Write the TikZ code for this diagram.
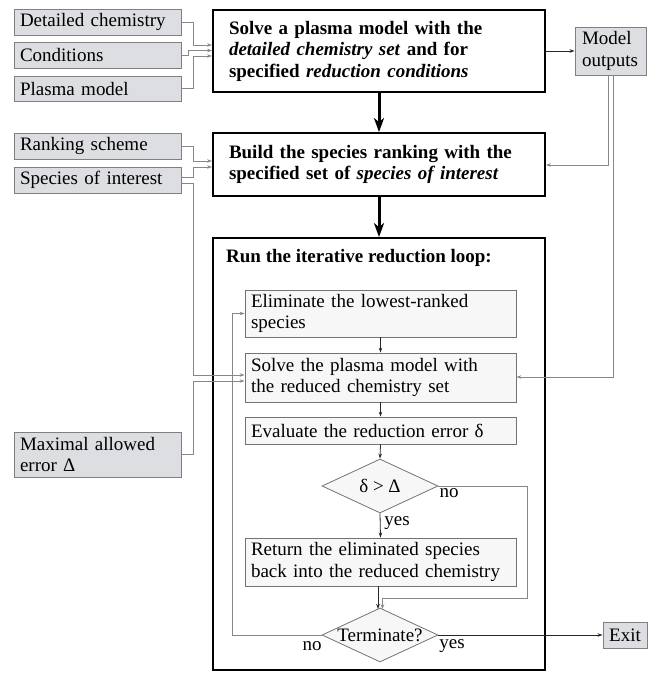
\documentclass[tikz,border=0pt]{standalone}
\usepackage{fontspec}
\setmainfont{Liberation Serif}
\usetikzlibrary{shapes.geometric,arrows.meta,calc}
\definecolor{gfill}{RGB}{221,222,225}
\definecolor{gedge}{RGB}{128,128,128}
\definecolor{ifill}{RGB}{247,247,247}
\definecolor{iedge}{RGB}{115,115,115}
\definecolor{lgray}{RGB}{135,135,135}
\newcommand\fsz{\fontsize{19}{21.5}\selectfont}
\begin{document}
\begin{tikzpicture}[x=1pt,y=-1pt,
  inbox/.style={draw=gedge, fill=gfill, line width=0.9pt, inner xsep=6pt, inner ysep=0pt,
    align=left, text width=155pt, font=\fsz},
  mainbox/.style={draw=black, line width=1.8pt, fill=white, font=\fsz\bfseries, align=left,
    text width=300pt, inner xsep=16pt, inner ysep=0pt},
  stepbox/.style={draw=iedge, fill=ifill, line width=0.8pt, text width=259pt, inner xsep=6pt,
    inner ysep=0pt, align=left, font=\fsz},
  decbox/.style={diamond, draw=iedge, fill=ifill, line width=0.8pt, minimum width=116pt,
    minimum height=54pt, inner sep=0pt},
  lbl/.style={font=\fsz, inner sep=0pt},
  gline/.style={draw=lgray, line width=0.8pt, -{Stealth[length=5pt,width=3.5pt]}},
  kline/.style={draw=black!85, line width=0.8pt, -{Stealth[length=5pt,width=3.5pt]}},
  thickarrow/.style={draw=black, line width=3pt, -{Stealth[length=14pt,width=10pt,inset=4pt]}}
]
\useasboundingbox (0,0) rectangle (652,673);

% input boxes
\node[inbox, minimum height=26pt] (det) at (97.5,22) {Detailed chemistry};
\node[inbox, minimum height=26pt] (cond) at (97.5,55) {Conditions};
\node[inbox, minimum height=25pt] (pm) at (97.5,88.5) {Plasma model};
\node[inbox, minimum height=26pt] (rank) at (97.5,146) {Ranking scheme};
\node[inbox, minimum height=26pt] (spec) at (97.5,180) {Species of interest};
\node[inbox, minimum height=45pt] (maxe) at (97.5,454.5) {Maximal allowed\\error Δ};

% main boxes
\node[mainbox, minimum height=82pt] (solve) at (379,51)
  {Solve a plasma model with the\\\textit{detailed chemistry set} and for\\specified \textit{reduction conditions}};
\node[inbox, text width=57pt, inner xsep=7pt, minimum height=48pt] (mo) at (610.5,51) {Model\\outputs};
\node[mainbox, minimum height=63pt] (rankb) at (379,164.5)
  {Build the species ranking with the\\specified set of \textit{species of interest}};

% loop box
\node[draw=black, line width=1.8pt, minimum width=332pt, minimum height=432pt, inner sep=0pt] (loop) at (379,454) {};
\node[font=\fsz\bfseries, anchor=west, inner sep=0pt] (title) at (226,258) {Run the iterative reduction loop:};

\node[stepbox, minimum height=47pt] (A) at (380.5,313.5) {Eliminate the lowest-ranked\\species};
\node[stepbox, minimum height=49pt] (B) at (380.5,377.5) {Solve the plasma model with\\the reduced chemistry set};
\node[stepbox, minimum height=27pt] (C) at (380.5,430.5) {Evaluate the reduction error δ};
\node[decbox, label={[lbl]center:δ > Δ}] (D1) at (380,486) {};
\node[stepbox, minimum height=48pt] (E) at (380.5,562) {Return the eliminated species\\back into the reduced chemistry};
\node[decbox, label={[lbl]center:Terminate?}] (D2) at (380,635) {};
\node[draw=gedge, fill=gfill, line width=0.9pt, minimum width=44pt, minimum height=26pt, inner sep=0pt, font=\fsz] (exit) at (625,635) {Exit};

% labels
\node[lbl] (no1) at (449,493) {no};
\node[lbl] (yes1) at (397,523) {yes};
\node[lbl] (no2) at (312,646) {no};
\node[lbl] (yes2) at (452,646) {yes};

% connectors: inputs
\draw[gline] (det.east) -- (193,22) -- (193,45) -- (solve.west |- 0,45);
\draw[gline] (cond.east) -- (188,55) -- (188,50.5) -- (solve.west |- 0,50.5);
\draw[gline] (pm.east) -- (193,88.5) -- (193,56) -- (solve.west |- 0,56);
\draw[kline] (solve.east) -- (mo.west);
\draw[thickarrow] (solve.south) -- (rankb.north);
\draw[gline] (rank.east) -- (193,146) -- (193,161) -- (rankb.west |- 0,161);
\draw[gline] (spec.east |- 0,177) -- (193,177) -- (193,167) -- (rankb.west |- 0,167);
\draw[gline] (spec.east |- 0,183) -- (193,183) -- (193,375) -- (B.west |- 0,375);
\draw[gline] (maxe.east) -- (193,454.5) -- (193,381) -- (B.west |- 0,381);
\draw[gline] (mo.south -| 608,0) -- (608,165) -- (rankb.east |- 0,165);
\draw[gline] (mo.south -| 613,0) -- (613,377) -- (B.east |- 0,377);
\draw[thickarrow] (rankb.south) -- (loop.north);

% loop connectors
\draw[kline] (A.south) -- (B.north);
\draw[kline] (B.south) -- (C.north);
\draw[kline] (C.south) -- (D1.north);
\draw[kline] (D1.south) -- (E.north);
\draw[kline] (E.south -| 378,0) -- (378,609);
\draw[gline] (D1.east) -- (527,486) -- (527,598) -- (382.5,598) -- (382.5,609.2);
\draw[gline] (D2.west) -- (232,635) -- (232,313.5) -- (A.west);
\draw[kline] (D2.east) -- (exit.west);
\end{tikzpicture}
\end{document}
